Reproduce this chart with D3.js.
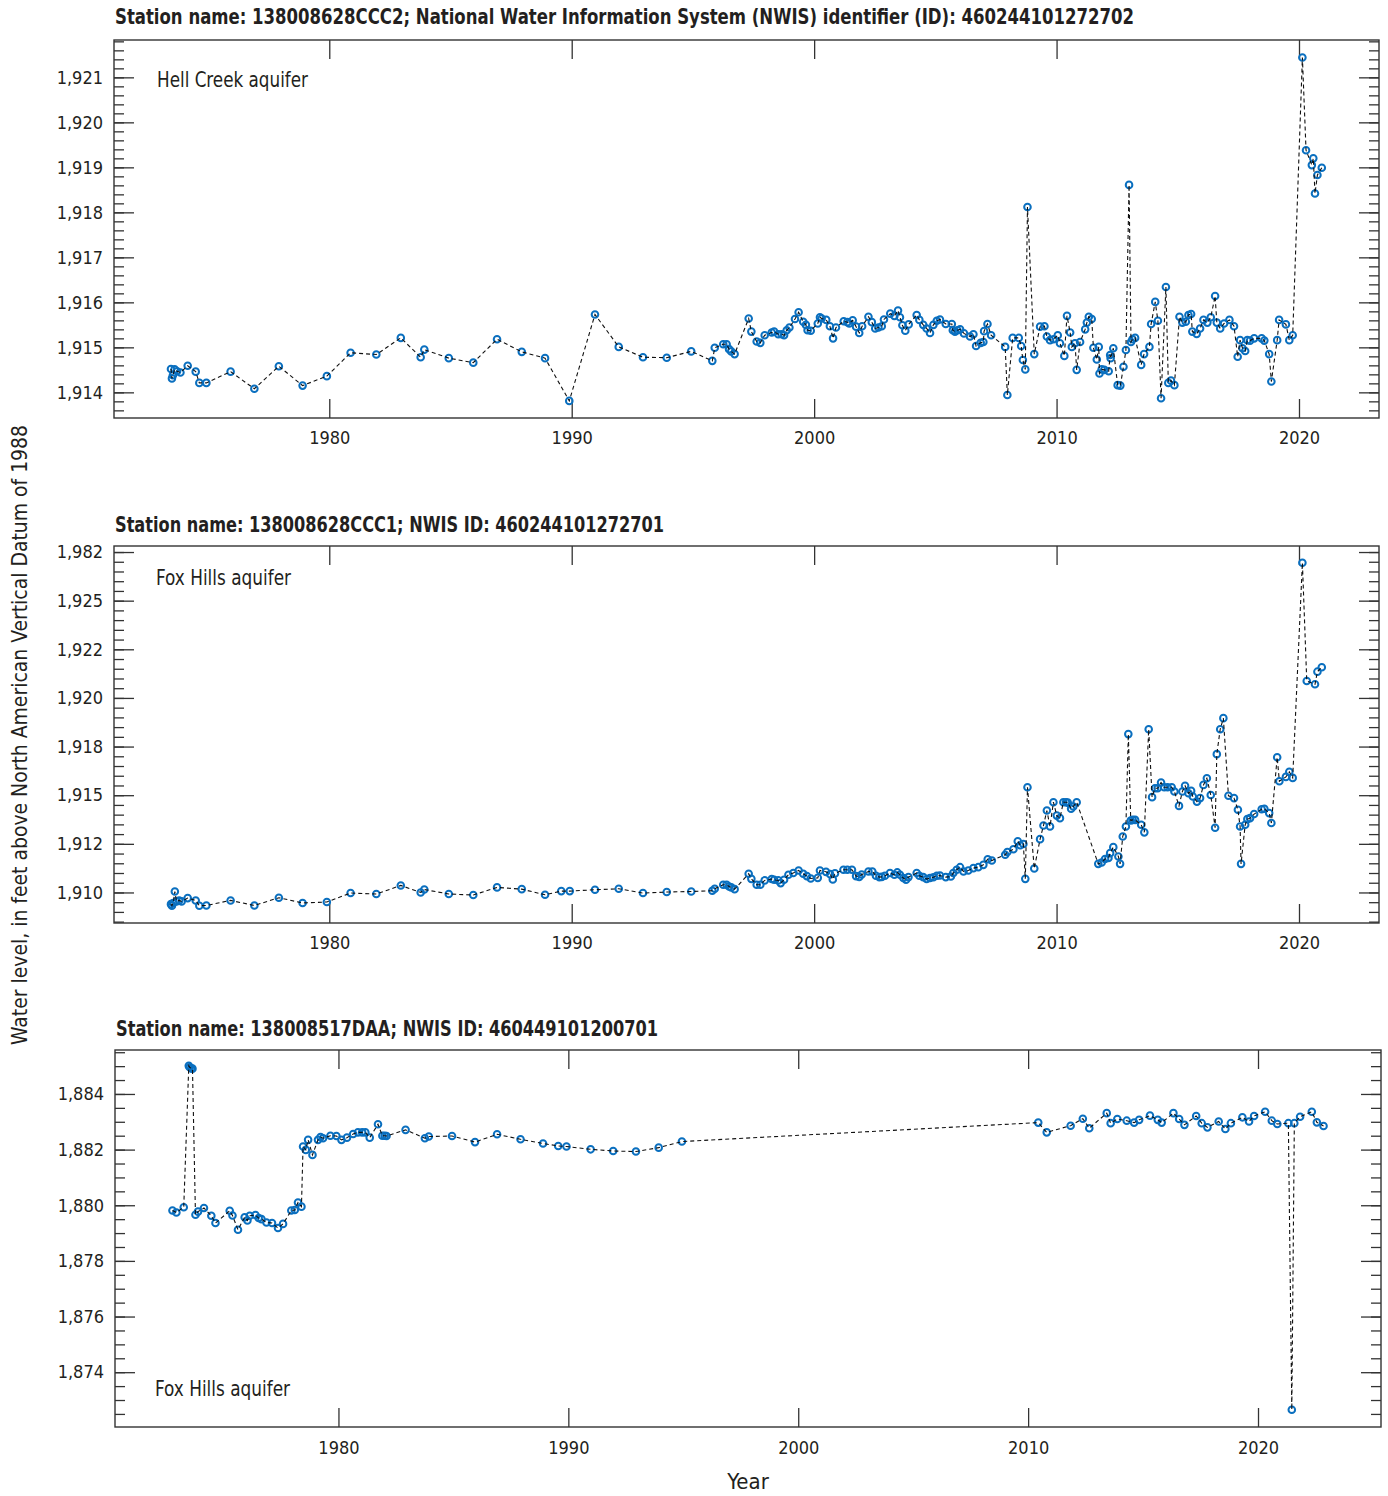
<!DOCTYPE html>
<html>
<head>
<meta charset="utf-8">
<script src="https://cdn.jsdelivr.net/npm/d3@7"></script>
<style>
  body { margin: 0; background: #fff; }
  svg text { font-family: "Liberation Sans Narrow", "Arial Narrow", "DejaVu Sans Condensed", sans-serif; fill: #231f20; }
</style>
</head>
<body>
<div id="chart-area"></div>
<script>
// SVG size
let width_raw = 1388,
	height_raw = 1496;

// Water levels, [decimal year, feet above NAVD 88]
let hellCreekCCC2 = [
	[1973.47,1914.52],[1973.51,1914.31],[1973.55,1914.38],[1973.62,1914.51],[1973.72,1914.47],[1973.86,1914.44],
	[1974.16,1914.59],[1974.49,1914.46],[1974.64,1914.21],[1974.93,1914.21],[1975.93,1914.46],[1976.91,1914.08],
	[1977.92,1914.58],[1978.90,1914.15],[1979.90,1914.36],[1980.88,1914.88],[1981.94,1914.84],[1982.95,1915.21],
	[1983.77,1914.78],[1983.92,1914.95],[1984.93,1914.76],[1985.94,1914.66],[1986.92,1915.18],[1987.94,1914.90],
	[1988.90,1914.76],[1989.90,1913.81],[1990.96,1915.73],[1991.94,1915.01],[1992.94,1914.78],[1993.92,1914.77],
	[1994.93,1914.91],[1995.80,1914.70],[1995.90,1914.99],[1996.25,1915.07],[1996.39,1915.07],[1996.49,1914.96],
	[1996.58,1914.91],[1996.72,1914.85],[1997.30,1915.64],[1997.41,1915.35],[1997.63,1915.13],[1997.78,1915.10],
	[1997.96,1915.27],[1998.25,1915.33],[1998.35,1915.35],[1998.52,1915.29],[1998.66,1915.29],[1998.76,1915.27],
	[1998.87,1915.38],[1998.98,1915.44],[1999.21,1915.63],[1999.36,1915.78],[1999.55,1915.57],[1999.66,1915.50],
	[1999.73,1915.38],[1999.86,1915.37],[2000.15,1915.53],[2000.24,1915.67],[2000.31,1915.64],[2000.50,1915.61],
	[2000.65,1915.47],[2000.78,1915.20],[2000.90,1915.44],[2001.22,1915.58],[2001.37,1915.56],[2001.45,1915.53],
	[2001.59,1915.60],[2001.73,1915.46],[2001.86,1915.32],[2001.98,1915.47],[2002.24,1915.68],[2002.38,1915.56],
	[2002.52,1915.42],[2002.65,1915.44],[2002.79,1915.47],[2002.88,1915.62],[2003.14,1915.75],[2003.31,1915.70],
	[2003.46,1915.82],[2003.54,1915.67],[2003.64,1915.49],[2003.76,1915.37],[2003.90,1915.51],[2004.23,1915.72],
	[2004.34,1915.61],[2004.50,1915.50],[2004.64,1915.42],[2004.78,1915.32],[2004.92,1915.50],[2005.06,1915.59],
	[2005.19,1915.62],[2005.43,1915.52],[2005.68,1915.52],[2005.72,1915.38],[2005.81,1915.35],[2005.91,1915.38],
	[2006.02,1915.40],[2006.18,1915.31],[2006.43,1915.24],[2006.57,1915.29],[2006.68,1915.03],[2006.87,1915.10],
	[2006.98,1915.12],[2007.01,1915.36],[2007.15,1915.52],[2007.30,1915.27],[2007.88,1915.01],[2007.97,1913.94],
	[2008.19,1915.21],[2008.44,1915.21],[2008.54,1915.03],[2008.61,1914.72],[2008.71,1914.51],[2008.80,1918.12],
	[2009.08,1914.85],[2009.32,1915.46],[2009.50,1915.47],[2009.60,1915.24],[2009.73,1915.16],[2009.87,1915.18],
	[2010.05,1915.27],[2010.14,1915.09],[2010.32,1914.81],[2010.43,1915.70],[2010.56,1915.33],[2010.63,1915.01],
	[2010.76,1915.09],[2010.83,1914.50],[2010.97,1915.12],[2011.18,1915.40],[2011.25,1915.55],[2011.33,1915.68],
	[2011.45,1915.63],[2011.52,1914.99],[2011.66,1914.73],[2011.74,1915.01],[2011.77,1914.42],[2011.86,1914.51],
	[2011.97,1914.50],[2012.15,1914.47],[2012.21,1914.83],[2012.23,1914.76],[2012.34,1914.98],[2012.52,1914.16],
	[2012.63,1914.15],[2012.76,1914.57],[2012.86,1914.94],[2012.99,1918.61],[2013.07,1915.12],[2013.13,1915.18],
	[2013.24,1915.21],[2013.49,1914.61],[2013.61,1914.85],[2013.83,1915.01],[2013.90,1915.52],[2014.07,1916.01],
	[2014.18,1915.59],[2014.31,1913.87],[2014.51,1916.34],[2014.61,1914.21],[2014.72,1914.26],[2014.86,1914.16],
	[2015.07,1915.68],[2015.19,1915.55],[2015.33,1915.57],[2015.44,1915.72],[2015.55,1915.74],[2015.60,1915.35],
	[2015.78,1915.30],[2015.92,1915.42],[2016.06,1915.61],[2016.22,1915.55],[2016.36,1915.67],[2016.54,1916.14],
	[2016.61,1915.55],[2016.75,1915.42],[2016.91,1915.53],[2017.13,1915.61],[2017.32,1915.47],[2017.47,1914.79],
	[2017.57,1915.16],[2017.67,1914.98],[2017.78,1914.92],[2017.87,1915.16],[2017.98,1915.15],[2018.15,1915.20],
	[2018.46,1915.20],[2018.57,1915.15],[2018.77,1914.85],[2018.86,1914.24],[2019.10,1915.16],[2019.18,1915.61],
	[2019.46,1915.51],[2019.60,1915.16],[2019.74,1915.27],[2020.14,1921.44],[2020.29,1919.38],[2020.53,1919.05],
	[2020.59,1919.20],[2020.66,1918.42],[2020.76,1918.83],[2020.94,1918.99]
];

let foxHillsCCC1 = [
	[1973.47,1909.40],[1973.51,1909.32],[1973.56,1909.46],[1973.63,1910.05],[1973.70,1909.54],[1973.81,1909.59],
	[1973.91,1909.54],[1974.16,1909.71],[1974.49,1909.59],[1974.64,1909.32],[1974.93,1909.33],[1975.93,1909.59],
	[1976.91,1909.33],[1977.92,1909.73],[1978.90,1909.46],[1979.90,1909.51],[1980.88,1909.97],[1981.94,1909.92],
	[1982.95,1910.36],[1983.77,1910.00],[1983.92,1910.15],[1984.93,1909.92],[1985.94,1909.87],[1986.92,1910.26],
	[1987.94,1910.17],[1988.90,1909.88],[1989.57,1910.07],[1989.92,1910.07],[1990.96,1910.14],[1991.94,1910.19],
	[1992.94,1909.97],[1993.92,1910.02],[1994.93,1910.05],[1995.80,1910.09],[1995.90,1910.19],[1996.25,1910.40],
	[1996.39,1910.40],[1996.49,1910.31],[1996.58,1910.26],[1996.72,1910.17],[1997.30,1910.96],[1997.41,1910.70],
	[1997.63,1910.40],[1997.78,1910.40],[1997.96,1910.62],[1998.25,1910.69],[1998.35,1910.65],[1998.52,1910.62],
	[1998.62,1910.48],[1998.76,1910.65],[1998.94,1910.91],[1999.14,1911.00],[1999.36,1911.13],[1999.55,1910.96],
	[1999.70,1910.84],[1999.86,1910.72],[2000.15,1910.75],[2000.24,1911.13],[2000.49,1911.06],[2000.66,1910.94],
	[2000.77,1910.67],[2000.86,1910.98],[2001.21,1911.17],[2001.37,1911.17],[2001.56,1911.17],[2001.73,1910.84],
	[2001.86,1910.80],[2001.96,1910.92],[2002.24,1911.08],[2002.40,1911.08],[2002.55,1910.86],[2002.69,1910.79],
	[2002.79,1910.80],[2002.92,1910.86],[2003.13,1911.00],[2003.31,1910.91],[2003.43,1911.03],[2003.54,1910.91],
	[2003.68,1910.74],[2003.79,1910.65],[2003.89,1910.79],[2004.23,1911.00],[2004.34,1910.86],[2004.50,1910.79],
	[2004.64,1910.69],[2004.78,1910.74],[2004.92,1910.78],[2005.06,1910.86],[2005.19,1910.87],[2005.43,1910.79],
	[2005.64,1910.82],[2005.74,1911.00],[2005.88,1911.17],[2006.02,1911.30],[2006.16,1911.08],[2006.36,1911.13],
	[2006.57,1911.25],[2006.77,1911.30],[2006.98,1911.42],[2007.16,1911.71],[2007.33,1911.64],[2007.88,1911.94],
	[2007.97,1912.08],[2008.22,1912.22],[2008.40,1912.63],[2008.50,1912.43],[2008.63,1912.49],[2008.71,1910.70],
	[2008.80,1915.41],[2009.08,1911.23],[2009.32,1912.74],[2009.46,1913.44],[2009.60,1914.21],[2009.73,1913.39],
	[2009.87,1914.64],[2010.01,1913.95],[2010.14,1913.82],[2010.28,1914.64],[2010.39,1914.64],[2010.46,1914.62],
	[2010.60,1914.30],[2010.69,1914.42],[2010.83,1914.64],[2011.72,1911.47],[2011.86,1911.54],[2012.00,1911.72],
	[2012.14,1911.77],[2012.21,1912.02],[2012.34,1912.33],[2012.55,1911.85],[2012.62,1911.47],[2012.73,1912.88],
	[2012.86,1913.39],[2012.96,1918.14],[2013.06,1913.70],[2013.14,1913.73],[2013.24,1913.73],[2013.49,1913.48],
	[2013.62,1913.09],[2013.80,1918.39],[2013.94,1914.90],[2014.06,1915.36],[2014.17,1915.36],[2014.31,1915.65],
	[2014.44,1915.41],[2014.58,1915.41],[2014.75,1915.41],[2014.86,1915.19],[2015.05,1914.45],[2015.19,1915.19],
	[2015.30,1915.48],[2015.44,1915.10],[2015.55,1915.22],[2015.62,1914.93],[2015.79,1914.67],[2015.92,1914.85],
	[2016.06,1915.53],[2016.20,1915.87],[2016.36,1915.01],[2016.54,1913.33],[2016.61,1917.11],[2016.75,1918.39],
	[2016.88,1918.96],[2017.09,1914.97],[2017.32,1914.85],[2017.48,1914.25],[2017.57,1913.39],[2017.61,1911.47],
	[2017.78,1913.48],[2017.87,1913.77],[2017.98,1913.82],[2018.15,1914.03],[2018.46,1914.28],[2018.57,1914.30],
	[2018.77,1914.08],[2018.86,1913.57],[2019.10,1916.95],[2019.19,1915.72],[2019.46,1915.94],[2019.60,1916.20],
	[2019.74,1915.89],[2020.14,1926.95],[2020.32,1920.87],[2020.66,1920.70],[2020.76,1921.35],[2020.94,1921.58]
];

let foxHillsDAA = [
	[1972.78,1879.81],[1972.95,1879.74],[1973.27,1879.93],[1973.49,1885.01],[1973.53,1884.96],[1973.60,1884.92],
	[1973.65,1884.91],[1973.78,1879.66],[1973.89,1879.77],[1974.15,1879.90],[1974.47,1879.62],[1974.65,1879.36],
	[1975.27,1879.80],[1975.39,1879.63],[1975.63,1879.12],[1975.92,1879.57],[1976.04,1879.45],[1976.14,1879.62],
	[1976.39,1879.65],[1976.53,1879.54],[1976.65,1879.50],[1976.87,1879.38],[1977.11,1879.36],[1977.37,1879.18],
	[1977.59,1879.33],[1977.95,1879.81],[1978.10,1879.83],[1978.24,1880.10],[1978.39,1879.95],[1978.46,1882.11],
	[1978.58,1881.99],[1978.68,1882.35],[1978.87,1881.81],[1979.11,1882.35],[1979.22,1882.45],[1979.33,1882.41],
	[1979.65,1882.50],[1979.91,1882.49],[1980.13,1882.35],[1980.37,1882.43],[1980.64,1882.56],[1980.85,1882.62],
	[1981.03,1882.62],[1981.17,1882.62],[1981.36,1882.43],[1981.72,1882.91],[1981.91,1882.50],[1982.01,1882.50],
	[1982.09,1882.49],[1982.92,1882.71],[1983.76,1882.41],[1983.93,1882.47],[1984.94,1882.49],[1985.94,1882.27],
	[1986.90,1882.55],[1987.92,1882.37],[1988.90,1882.22],[1989.56,1882.13],[1989.92,1882.11],[1990.97,1882.01],
	[1991.95,1881.95],[1992.94,1881.93],[1993.93,1882.07],[1994.94,1882.29],[2010.44,1882.97],[2010.81,1882.62],
	[2011.85,1882.86],[2012.38,1883.11],[2012.66,1882.77],[2013.42,1883.31],[2013.59,1882.95],[2013.88,1883.10],
	[2014.29,1883.04],[2014.61,1882.97],[2014.83,1883.07],[2015.30,1883.22],[2015.64,1883.07],[2015.81,1882.97],
	[2016.32,1883.31],[2016.57,1883.10],[2016.80,1882.89],[2017.31,1883.21],[2017.55,1882.95],[2017.80,1882.80],
	[2018.29,1883.01],[2018.58,1882.74],[2018.82,1882.95],[2019.32,1883.16],[2019.61,1883.01],[2019.83,1883.21],
	[2020.31,1883.36],[2020.60,1883.04],[2020.84,1882.92],[2021.32,1882.95],[2021.47,1872.65],[2021.58,1882.95],
	[2021.83,1883.18],[2022.34,1883.36],[2022.56,1882.98],[2022.85,1882.85]
];

// Tick values and labels
let yearTicks = [1980, 1990, 2000, 2010, 2020];

let p1Ticks = [1914, 1915, 1916, 1917, 1918, 1919, 1920, 1921];
let p1Labels = ["1,914", "1,915", "1,916", "1,917", "1,918", "1,919", "1,920", "1,921"];

let p2Ticks = [1910, 1912.5, 1915, 1917.5, 1920, 1922.5, 1925, 1927.5];
let p2Labels = ["1,910", "1,912", "1,915", "1,918", "1,920", "1,922", "1,925", "1,982"];

let p3Ticks = [1874, 1876, 1878, 1880, 1882, 1884];
let p3Labels = ["1,874", "1,876", "1,878", "1,880", "1,882", "1,884"];

let titles = [
	"Station name: 138008628CCC2; National Water Information System (NWIS) identifier (ID): 460244101272702",
	"Station name: 138008628CCC1; NWIS ID: 460244101272701",
	"Station name: 138008517DAA; NWIS ID: 460449101200701"
];

let svg = d3.select("#chart-area")
	.append("svg")
	.attr("width", width_raw)
	.attr("height", height_raw);

let panels = [
	{data: hellCreekCCC2, x: 114, y: 40, w: 1265, h: 378, xDomain: [1971.12, 2023.3], yDomain: [1913.43, 1921.83],
		ticks: p1Ticks, labels: p1Labels, minorStep: 0.2, title: titles[0], titleW: 1019, titleY: 24,
		note: "Hell Creek aquifer", noteX: 157, noteY: 87, noteW: 151, labelPad: 13},
	{data: foxHillsCCC1, x: 114, y: 546, w: 1265, h: 377, xDomain: [1971.12, 2023.3], yDomain: [1908.43, 1927.81],
		ticks: p2Ticks, labels: p2Labels, minorStep: 0.5, title: titles[1], titleW: 549, titleY: 532,
		note: "Fox Hills aquifer", noteX: 156, noteY: 585, noteW: 135, labelPad: 13},
	{data: foxHillsDAA, x: 115, y: 1050, w: 1266, h: 377, xDomain: [1970.28, 2025.35], yDomain: [1872.03, 1885.58],
		ticks: p3Ticks, labels: p3Labels, minorStep: 0.5, title: titles[2], titleW: 542, titleY: 1036,
		note: "Fox Hills aquifer", noteX: 155, noteY: 1396, noteW: 135, labelPad: 14}
];

panels.forEach(drawPanel);

function drawPanel(p) {
	let g = svg.append("g")
		.attr("transform", "translate(" + p.x + "," + p.y + ")");

	let xScale = d3.scaleLinear().domain(p.xDomain).range([0, p.w]);
	let yScale = d3.scaleLinear().domain(p.yDomain).range([p.h, 0]);

	// minor y ticks
	let minor = d3.range(Math.ceil(p.yDomain[0] / p.minorStep) * p.minorStep, p.yDomain[1], p.minorStep);

	let yMinorLeft = d3.axisLeft(yScale).tickValues(minor).tickSizeInner(-10).tickSizeOuter(0).tickFormat("");
	let yMinorRight = d3.axisRight(yScale).tickValues(minor).tickSizeInner(-10).tickSizeOuter(0).tickFormat("");
	let yLeft = d3.axisLeft(yScale).tickValues(p.ticks).tickSizeInner(-20).tickSizeOuter(0).tickPadding(11)
		.tickFormat((d, i) => p.labels[i]);
	let yRight = d3.axisRight(yScale).tickValues(p.ticks).tickSizeInner(-20).tickSizeOuter(0).tickFormat("");
	let xBottom = d3.axisBottom(xScale).tickValues(yearTicks).tickSizeInner(-19).tickSizeOuter(0)
		.tickPadding(p.labelPad).tickFormat(d3.format("d"));
	let xTop = d3.axisTop(xScale).tickValues(yearTicks).tickSizeInner(-19).tickSizeOuter(0).tickFormat("");

	g.append("g").attr("class", "axis").call(yMinorLeft);
	g.append("g").attr("class", "axis").attr("transform", "translate(" + p.w + ",0)").call(yMinorRight);
	g.append("g").attr("class", "axis y-axis").call(yLeft);
	g.append("g").attr("class", "axis").attr("transform", "translate(" + p.w + ",0)").call(yRight);
	g.append("g").attr("class", "axis x-axis").attr("transform", "translate(0," + p.h + ")").call(xBottom);
	g.append("g").attr("class", "axis").call(xTop);

	g.selectAll(".axis .domain").remove();
	g.selectAll(".axis line").attr("stroke", "#333").attr("stroke-width", 1.3);
	g.selectAll(".axis text")
		.attr("font-size", 18)
		.attr("font-family", null)
		.attr("fill", "#231f20");

	// frame
	g.append("rect")
		.attr("width", p.w)
		.attr("height", p.h)
		.attr("fill", "none")
		.attr("stroke", "#333")
		.attr("stroke-width", 1.4);

	// markers
	g.selectAll("circle")
		.data(p.data)
		.enter()
		.append("circle")
		.attr("cx", d => xScale(d[0]))
		.attr("cy", d => yScale(d[1]))
		.attr("r", 3.3)
		.attr("fill", "none")
		.attr("stroke", "#0a6fbf")
		.attr("stroke-width", 2);

	// dashed connecting line
	let line = d3.line()
		.x(d => xScale(d[0]))
		.y(d => yScale(d[1]));

	g.append("path")
		.datum(p.data)
		.attr("d", line)
		.attr("fill", "none")
		.attr("stroke", "#111")
		.attr("stroke-width", 1.1)
		.attr("stroke-dasharray", "4,3");

	// title
	svg.append("text")
		.attr("x", p.x + 1)
		.attr("y", p.titleY)
		.attr("font-size", 22)
		.attr("font-weight", "bold")
		.attr("textLength", p.titleW)
		.attr("lengthAdjust", "spacingAndGlyphs")
		.text(p.title);

	// aquifer note
	svg.append("text")
		.attr("x", p.noteX)
		.attr("y", p.noteY)
		.attr("font-size", 21)
		.attr("textLength", p.noteW)
		.attr("lengthAdjust", "spacingAndGlyphs")
		.text(p.note);
}

// axis titles
svg.append("text")
	.attr("transform", "translate(27,735)rotate(-90)")
	.attr("text-anchor", "middle")
	.attr("font-size", 22)
	.attr("textLength", 620)
	.attr("lengthAdjust", "spacingAndGlyphs")
	.text("Water level, in feet above North American Vertical Datum of 1988");

svg.append("text")
	.attr("x", 748)
	.attr("y", 1489)
	.attr("text-anchor", "middle")
	.attr("font-size", 22)
	.text("Year");
</script>
</body>
</html>
